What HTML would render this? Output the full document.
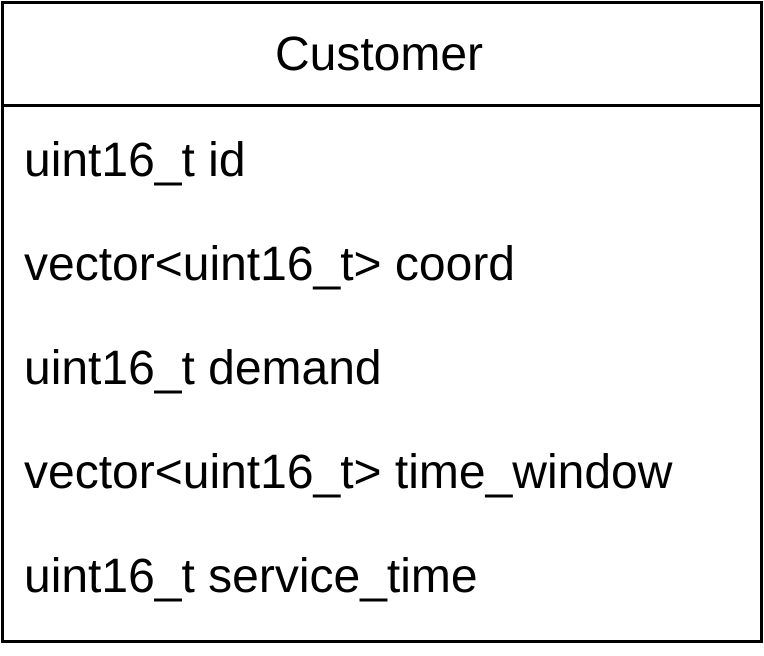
<!DOCTYPE html>
<html><head><style>
body{margin:0;width:764px;height:656px;background:#fff;overflow:hidden}
.box{position:absolute;border:3px solid #000;box-sizing:content-box}
.hdr{position:absolute;left:0;top:0;width:100%;height:100px;border-bottom:3px solid #000;font:48px "Liberation Sans",sans-serif;text-align:center;line-height:102px;box-sizing:border-box;padding-right:6px;height:103px}
.r{position:absolute;left:20px;font:48px "Liberation Sans",sans-serif;line-height:1}
</style></head><body>
<div class="box" style="left:1px;top:1px;width:756px;height:636px;">
<div class="hdr">Customer</div>
<div class="r" style="top:133px">uint16_t id</div>
<div class="r" style="top:237px">vector&lt;uint16_t&gt; coord</div>
<div class="r" style="top:341px">uint16_t demand</div>
<div class="r" style="top:445px">vector&lt;uint16_t&gt; time_window</div>
<div class="r" style="top:549px">uint16_t service_time</div>
</div>
</body></html>
